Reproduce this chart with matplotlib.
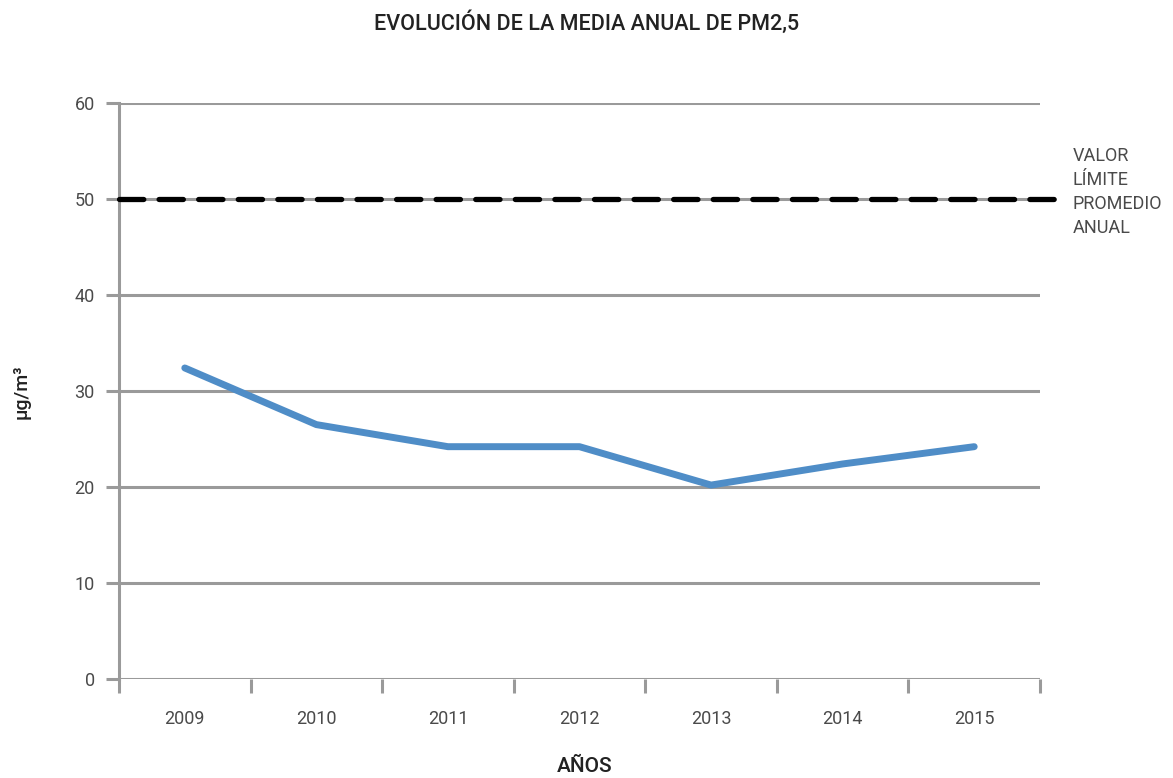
import matplotlib.pyplot as plt
import numpy as np

plt.rcParams['font.family'] = ['Roboto', 'DejaVu Sans']

years = ['2009', '2010', '2011', '2012', '2013', '2014', '2015']
pm25 = [32.4, 26.5, 24.2, 24.2, 20.2, 22.4, 24.2]
limite = 50
y_ticks = [0, 10, 20, 30, 40, 50, 60]

grey = '#9a9a9a'

fig = plt.figure(figsize=(11.73, 7.78), dpi=100)
ax = fig.add_axes([119 / 1173, 99 / 778, 921 / 1173, 576 / 778])

x = np.arange(len(years)) + 0.5
ax.set_xlim(0, len(years))
ax.set_ylim(0, 60)

# gridlines
for v in y_ticks:
    ax.axhline(v, color=grey, lw=2.2, zorder=1, solid_capstyle='butt')

# limit line
ax.plot([0, len(years) * 1.0165], [limite, limite], color='black', lw=3.8,
        dashes=(4.6, 2.9), dash_capstyle='round', clip_on=False, zorder=3)

ax.plot(x, pm25, color='#4f8dc7', lw=5, solid_capstyle='round',
        solid_joinstyle='round', zorder=4)

for s in ['top', 'right', 'bottom']:
    ax.spines[s].set_visible(False)
ax.spines['left'].set_color(grey)
ax.spines['left'].set_linewidth(2.2)

ax.set_yticks(y_ticks)
ax.tick_params(axis='y', length=9.5, width=2.2, color=grey, pad=8,
               labelsize=13, labelcolor='#4a4a4a')
ax.set_xticks(np.arange(len(years) + 1))
ax.set_xticklabels([])
ax.set_xticks(x, minor=True)
ax.set_xticklabels(years, minor=True)
ax.tick_params(axis='x', which='major', length=10, width=2.2, color=grey,
               direction='out')
ax.tick_params(axis='x', which='minor', length=0, pad=22, labelsize=13,
               labelcolor='#4a4a4a')

fig.text(0.5, 1 - 23 / 778, 'EVOLUCIÓN DE LA MEDIA ANUAL DE PM2,5',
         ha='center', va='center', fontsize=15.5, fontweight='medium',
         color='#222222')
fig.text(22 / 1173, 1 - 392 / 778, 'µg/m³', rotation=90, ha='center',
         va='center', fontsize=14, fontweight='medium', color='#222222')
fig.text(585 / 1173, 1 - 766 / 778, 'AÑOS', ha='center', va='center',
         fontsize=15, fontweight='medium', color='#222222')
fig.text(1073 / 1173, 1 - 192 / 778, 'VALOR\nLÍMITE\nPROMEDIO\nANUAL',
         ha='left', va='center', fontsize=13, fontweight='normal',
         color='#4a4a4a', linespacing=1.45)

fig.savefig('out.png', dpi=100)
